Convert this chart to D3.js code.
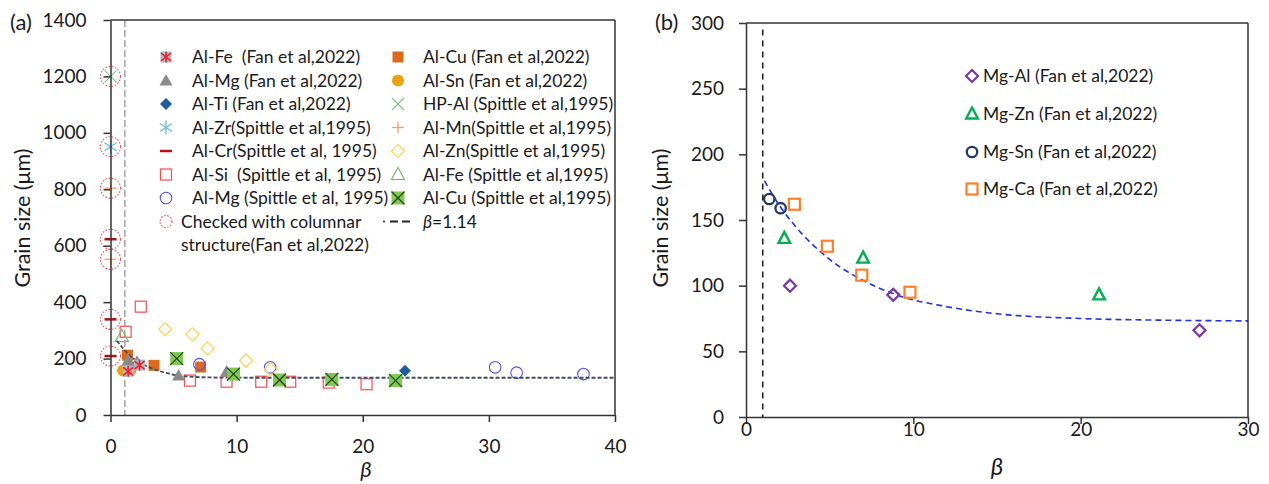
<!DOCTYPE html>
<html>
<head>
<meta charset="utf-8">
<script src="https://cdn.jsdelivr.net/npm/d3@7"></script>
<style>
  html, body { margin: 0; padding: 0; background: #fff; }
  svg { display: block; font-family: Lato, "Open Sans", sans-serif; }
</style>
</head>
<body>
<svg id="chart" width="1269" height="484"></svg>
<script>
// ---- Panel (a): Al alloys, grain size vs beta ----
const alFeFan   = [[1.4, 155], [2.3, 177]];
const alMgFan   = [[1.4, 195], [2.1, 189], [5.4, 140], [9.2, 154]];
const alTiFan   = [[23.35, 157]];
const alZrSp    = [[0, 951]];
const alCrSp    = [[0, 623], [0, 339], [0, 209]];
const alSiSp    = [[1.2, 295], [2.4, 384], [6.3, 122], [9.2, 118], [11.95, 118], [14.25, 118], [17.3, 115], [20.3, 109]];
const alMgSp    = [[7.05, 180], [12.66, 169], [30.5, 169], [32.2, 150], [37.5, 145]];
const columnar  = [[0, 1200], [0, 951], [0, 804], [0, 623], [0, 552], [0, 339], [0, 209]];
const alCuFan   = [[1.35, 212], [3.45, 176], [7.15, 170]];
const alSnFan   = [[1.0, 158], [1.6, 161]];
const hpAlSp    = [[0, 1200]];
const alMnSp    = [[0, 804], [0, 552]];
const alZnSp    = [[4.33, 304], [6.5, 286], [7.7, 236], [10.75, 193], [12.7, 162]];
const alFeSp    = [[0.9, 278]];
const alCuSp    = [[5.25, 200], [9.75, 145], [13.4, 124], [17.55, 126], [22.6, 122]];
const fitA      = [[0.5, 263], [1, 236], [1.8, 201], [3.1, 169], [4.5, 148], [6, 137], [8, 133], [12, 132], [40, 132]];
const betaA     = 1.14;
const xTicksA   = [0, 10, 20, 30, 40];
const yTicksA   = [0, 200, 400, 600, 800, 1000, 1200, 1400];

// ---- Panel (b): Mg alloys ----
const mgAl = [[2.63, 100], [8.8, 93], [27.1, 66]];
const mgZn = [[2.29, 136], [7.0, 121], [21.1, 93]];
const mgSn = [[1.39, 166], [2.07, 159]];
const mgCa = [[2.89, 162], [4.86, 130], [6.92, 108], [9.8, 95]];
const fitB = [[1.1, 180], [2, 161], [3, 144.5], [5, 120], [7, 104], [9, 93], [12, 84], [15, 78.6], [20, 75], [25, 73.7], [30, 73.2]];
const betaB = 1.0;
const xTicksB = [0, 10, 20, 30];
const yTicksB = [0, 50, 100, 150, 200, 250, 300];

const legendA1 = ["Al-Fe  (Fan et al,2022)", "Al-Mg (Fan et al,2022)", "Al-Ti (Fan et al,2022)",
  "Al-Zr(Spittle et al,1995)", "Al-Cr(Spittle et al, 1995)", "Al-Si  (Spittle et al, 1995)",
  "Al-Mg (Spittle et al, 1995)", "Checked with columnar"];
const legendA2 = ["Al-Cu (Fan et al,2022)", "Al-Sn (Fan et al,2022)", "HP-Al (Spittle et al,1995)",
  "Al-Mn(Spittle et al,1995)", "Al-Zn(Spittle et al,1995)", "Al-Fe (Spittle et al,1995)",
  "Al-Cu (Spittle et al,1995)"];
const legendB = ["Mg-Al (Fan et al,2022)", "Mg-Zn (Fan et al,2022)", "Mg-Sn (Fan et al,2022)", "Mg-Ca (Fan et al,2022)"];

const svg = d3.select("#chart");
const TXT = "#1a1a1a";
const AX = "#333";
const LEG_FS = 17.5;

// marker drawer: appends a symbol of the given kind centred at (x, y)
function marker(g, kind, x, y) {
  const m = g.append("g").attr("transform", `translate(${x},${y})`);
  const line = (x1, y1, x2, y2, c, w) => m.append("line").attr("x1", x1).attr("y1", y1).attr("x2", x2).attr("y2", y2)
    .attr("stroke", c).attr("stroke-width", w);
  switch (kind) {
    case "feFan":
      m.append("rect").attr("x", -5.5).attr("y", -5.5).attr("width", 11).attr("height", 11).attr("fill", "#a7bcd3");
      line(0, -5.5, 0, 5.5, "#ff1a1a", 1.6);
      line(-5, -4, 5, 4, "#ff1a1a", 1.6);
      line(-5, 4, 5, -4, "#ff1a1a", 1.6);
      break;
    case "triFill":
      m.append("path").attr("d", "M0,-6.5L6.5,5L-6.5,5Z").attr("fill", "#8a8a8a");
      break;
    case "diaFill":
      m.append("path").attr("d", "M0,-6L6,0L0,6L-6,0Z").attr("fill", "#1f5c9e");
      break;
    case "asterisk":
      line(0, -7, 0, 7, "#6cb8e8", 1.3);
      line(-6, -4, 6, 4, "#6cb8e8", 1.3);
      line(-6, 4, 6, -4, "#6cb8e8", 1.3);
      break;
    case "dash":
      line(-6, 0, 6, 0, "#b01010", 2.5);
      break;
    case "sqOpen":
      m.append("rect").attr("x", -5.5).attr("y", -5.5).attr("width", 11).attr("height", 11)
        .attr("fill", "none").attr("stroke", "#ff4a4a").attr("stroke-width", 1.2);
      break;
    case "circOpen":
      m.append("circle").attr("r", 5.8).attr("fill", "none").attr("stroke", "#5050ff").attr("stroke-width", 1.1);
      break;
    case "checked":
      m.append("circle").attr("r", 10).attr("fill", "none").attr("stroke", "#ff5050")
        .attr("stroke-width", 1.1).attr("stroke-dasharray", "1.6,1.6");
      break;
    case "sqFill":
      m.append("rect").attr("x", -5.5).attr("y", -5.5).attr("width", 11).attr("height", 11).attr("fill", "#dd6a1c");
      break;
    case "circFill":
      m.append("circle").attr("r", 6).attr("fill", "#e9a20e");
      break;
    case "times":
      line(-6, -6, 6, 6, "#7cc48a", 1.1);
      line(-6, 6, 6, -6, "#7cc48a", 1.1);
      break;
    case "plus":
      line(-6, 0, 6, 0, "#f7a060", 1.3);
      line(0, -6, 0, 6, "#f7a060", 1.3);
      break;
    case "diaOpen":
      m.append("path").attr("d", "M0,-6.5L6.5,0L0,6.5L-6.5,0Z").attr("fill", "none")
        .attr("stroke", "#ffd24d").attr("stroke-width", 1.2);
      break;
    case "triOpen":
      m.append("path").attr("d", "M0,-7L6.5,5L-6.5,5Z").attr("fill", "none")
        .attr("stroke", "#72b85a").attr("stroke-width", 1.1);
      break;
    case "sqX":
      m.append("rect").attr("x", -6.5).attr("y", -6.5).attr("width", 13).attr("height", 13).attr("fill", "#7ccc50");
      line(-6.5, -6.5, 6.5, 6.5, "#2b3a22", 1.2);
      line(-6.5, 6.5, 6.5, -6.5, "#2b3a22", 1.2);
      break;
    // panel (b) markers, heavier outlines
    case "mgDia":
      m.append("path").attr("d", "M0,-6L6,0L0,6L-6,0Z").attr("fill", "none")
        .attr("stroke", "#7a35a8").attr("stroke-width", 2.2);
      break;
    case "mgTri":
      m.append("path").attr("d", "M0,-6.5L5.8,4.5L-5.8,4.5Z").attr("fill", "none")
        .attr("stroke", "#00b050").attr("stroke-width", 2.4);
      break;
    case "mgCirc":
      m.append("circle").attr("r", 5.2).attr("fill", "none").attr("stroke", "#1f3864").attr("stroke-width", 2.3);
      break;
    case "mgSq":
      m.append("rect").attr("x", -5.5).attr("y", -5.5).attr("width", 11).attr("height", 11)
        .attr("fill", "none").attr("stroke", "#ff7f27").attr("stroke-width", 2.2);
      break;
  }
}

function frame(g, x, y, xTicks, yTicks, fs, xLabY, yLabX) {
  const [x0, x1] = x.range();
  const [y0, y1] = y.range();
  const ax = g.append("g").attr("transform", `translate(0,${y0})`)
    .call(d3.axisBottom(x).tickValues(xTicks).tickSize(7).tickSizeOuter(0).tickFormat(d3.format("d")));
  ax.selectAll("text").attr("y", xLabY).attr("dy", "0.35em").attr("font-size", fs).attr("fill", TXT)
    .attr("font-family", "Lato, sans-serif");
  const ay = g.append("g").attr("transform", `translate(${x0},0)`)
    .call(d3.axisLeft(y).tickValues(yTicks).tickSize(7).tickSizeOuter(0).tickFormat(d3.format("d")));
  ay.selectAll("text").attr("x", -yLabX).attr("font-size", fs).attr("fill", TXT)
    .attr("font-family", "Lato, sans-serif");
  g.selectAll(".domain").attr("stroke", AX).attr("stroke-width", 1.5);
  g.selectAll(".tick line").attr("stroke", AX).attr("stroke-width", 1.5);
  g.append("line").attr("x1", x0).attr("x2", x1).attr("y1", y1).attr("y2", y1).attr("stroke", AX).attr("stroke-width", 1.5);
  g.append("line").attr("x1", x1).attr("x2", x1).attr("y1", y1).attr("y2", y0).attr("stroke", AX).attr("stroke-width", 1.5);
}

// ================= Panel (a) =================
const xa = d3.scaleLinear().domain([0, 40]).range([110.5, 615]);
const ya = d3.scaleLinear().domain([0, 1400]).range([415, 20]);
const ga = svg.append("g");

// threshold line beta = 1.14
ga.append("line").attr("x1", xa(betaA)).attr("x2", xa(betaA)).attr("y1", ya(1400)).attr("y2", ya(0))
  .attr("stroke", "#8c8c8c").attr("stroke-width", 1.2).attr("stroke-dasharray", "7,3");

const seriesA = [
  [columnar, "checked"], [alSiSp, "sqOpen"], [alCuFan, "sqFill"], [alMgSp, "circOpen"], [alZnSp, "diaOpen"],
  [alFeSp, "triOpen"], [alSnFan, "circFill"], [alMgFan, "triFill"], [alFeFan, "feFan"], [alCuSp, "sqX"],
  [alTiFan, "diaFill"], [alZrSp, "asterisk"], [alCrSp, "dash"], [hpAlSp, "times"], [alMnSp, "plus"]
];

const lineGen = (x, y) => d3.line().x(d => x(d[0])).y(d => y(d[1])).curve(d3.curveMonotoneX);

seriesA.slice(0, 7).forEach(([data, kind]) => data.forEach(d => marker(ga, kind, xa(d[0]), ya(d[1]))));
ga.append("path").datum(fitA).attr("d", lineGen(xa, ya)).attr("fill", "none")
  .attr("stroke", "#3e4c60").attr("stroke-width", 1.8).attr("stroke-dasharray", "4,2");
seriesA.slice(7).forEach(([data, kind]) => data.forEach(d => marker(ga, kind, xa(d[0]), ya(d[1]))));

frame(ga, xa, ya, xTicksA, yTicksA, 19, 31, 24);

// legend (a)
const legA1Kinds = ["feFan", "triFill", "diaFill", "asterisk", "dash", "sqOpen", "circOpen", "checked"];
const legA2Kinds = ["sqFill", "circFill", "times", "plus", "diaOpen", "triOpen", "sqX"];
const rowY = i => 57 + i * 23.5;
legendA1.forEach((t, i) => {
  const g = ga.append("g");
  if (legA1Kinds[i] === "checked") {
    g.append("circle").attr("cx", 166).attr("cy", rowY(i)).attr("r", 6).attr("fill", "none").attr("stroke", "#ff5050")
      .attr("stroke-width", 1.1).attr("stroke-dasharray", "1.6,1.6");
  } else {
    marker(g, legA1Kinds[i], 166, rowY(i));
  }
  g.append("text").attr("x", i === 7 ? 181 : 192).attr("y", rowY(i)).attr("dy", "0.35em")
    .attr("font-size", LEG_FS).attr("fill", TXT).style("white-space", "pre").text(t);
});
ga.append("text").attr("x", 181).attr("y", rowY(8)).attr("dy", "0.35em").attr("font-size", LEG_FS)
  .attr("fill", TXT).text("structure(Fan et al,2022)");
legendA2.forEach((t, i) => {
  marker(ga, legA2Kinds[i], 398, rowY(i));
  ga.append("text").attr("x", 423).attr("y", rowY(i)).attr("dy", "0.35em")
    .attr("font-size", LEG_FS).attr("fill", TXT).text(t);
});
// beta threshold legend entry
ga.append("circle").attr("cx", 384).attr("cy", rowY(7)).attr("r", 1).attr("fill", "#222");
ga.append("line").attr("x1", 390).attr("x2", 412).attr("y1", rowY(7)).attr("y2", rowY(7))
  .attr("stroke", "#222").attr("stroke-width", 2).attr("stroke-dasharray", "8,4");
const bt = ga.append("text").attr("x", 423).attr("y", rowY(7)).attr("dy", "0.35em").attr("font-size", LEG_FS).attr("fill", TXT);
bt.append("tspan").attr("font-style", "italic").text("β");
bt.append("tspan").text("=1.14");

// titles (a)
ga.append("text").attr("x", 10).attr("y", 30).attr("font-size", 22).attr("fill", TXT).text("(a)");
ga.append("text").attr("transform", "translate(30,218) rotate(-90)").attr("text-anchor", "middle")
  .attr("font-size", 21.5).attr("fill", TXT).text("Grain size (μm)");
ga.append("text").attr("x", 366).attr("y", 477).attr("text-anchor", "middle").attr("font-size", 22)
  .attr("font-style", "italic").attr("fill", TXT).text("β");

// ================= Panel (b) =================
const xb = d3.scaleLinear().domain([0, 30]).range([746, 1248]);
const yb = d3.scaleLinear().domain([0, 300]).range([417, 23]);
const gb = svg.append("g");

gb.append("line").attr("x1", xb(betaB)).attr("x2", xb(betaB)).attr("y1", yb(295)).attr("y2", yb(0))
  .attr("stroke", "#222").attr("stroke-width", 1.6).attr("stroke-dasharray", "6,5");
gb.append("path").datum(fitB).attr("d", lineGen(xb, yb)).attr("fill", "none")
  .attr("stroke", "#1f2ff0").attr("stroke-width", 1.6).attr("stroke-dasharray", "6,4");

[[mgAl, "mgDia"], [mgZn, "mgTri"], [mgSn, "mgCirc"], [mgCa, "mgSq"]].forEach(([data, kind]) =>
  data.forEach(d => marker(gb, kind, xb(d[0]), yb(d[1]))));

frame(gb, xb, yb, xTicksB, yTicksB, 19, 12, 22);

const legBKinds = ["mgDia", "mgTri", "mgCirc", "mgSq"];
const legBY = [76, 114, 152, 189];
legendB.forEach((t, i) => {
  marker(gb, legBKinds[i], 972, legBY[i]);
  gb.append("text").attr("x", 983).attr("y", legBY[i]).attr("dy", "0.35em").attr("font-size", LEG_FS)
    .attr("fill", TXT).text(t);
});

gb.append("text").attr("x", 655).attr("y", 30).attr("font-size", 22).attr("fill", TXT).text("(b)");
gb.append("text").attr("transform", "translate(668,218) rotate(-90)").attr("text-anchor", "middle")
  .attr("font-size", 21.5).attr("fill", TXT).text("Grain size (μm)");
gb.append("text").attr("x", 997).attr("y", 475).attr("text-anchor", "middle").attr("font-size", 24)
  .attr("font-style", "italic").attr("fill", TXT).text("β");
</script>
</body>
</html>
